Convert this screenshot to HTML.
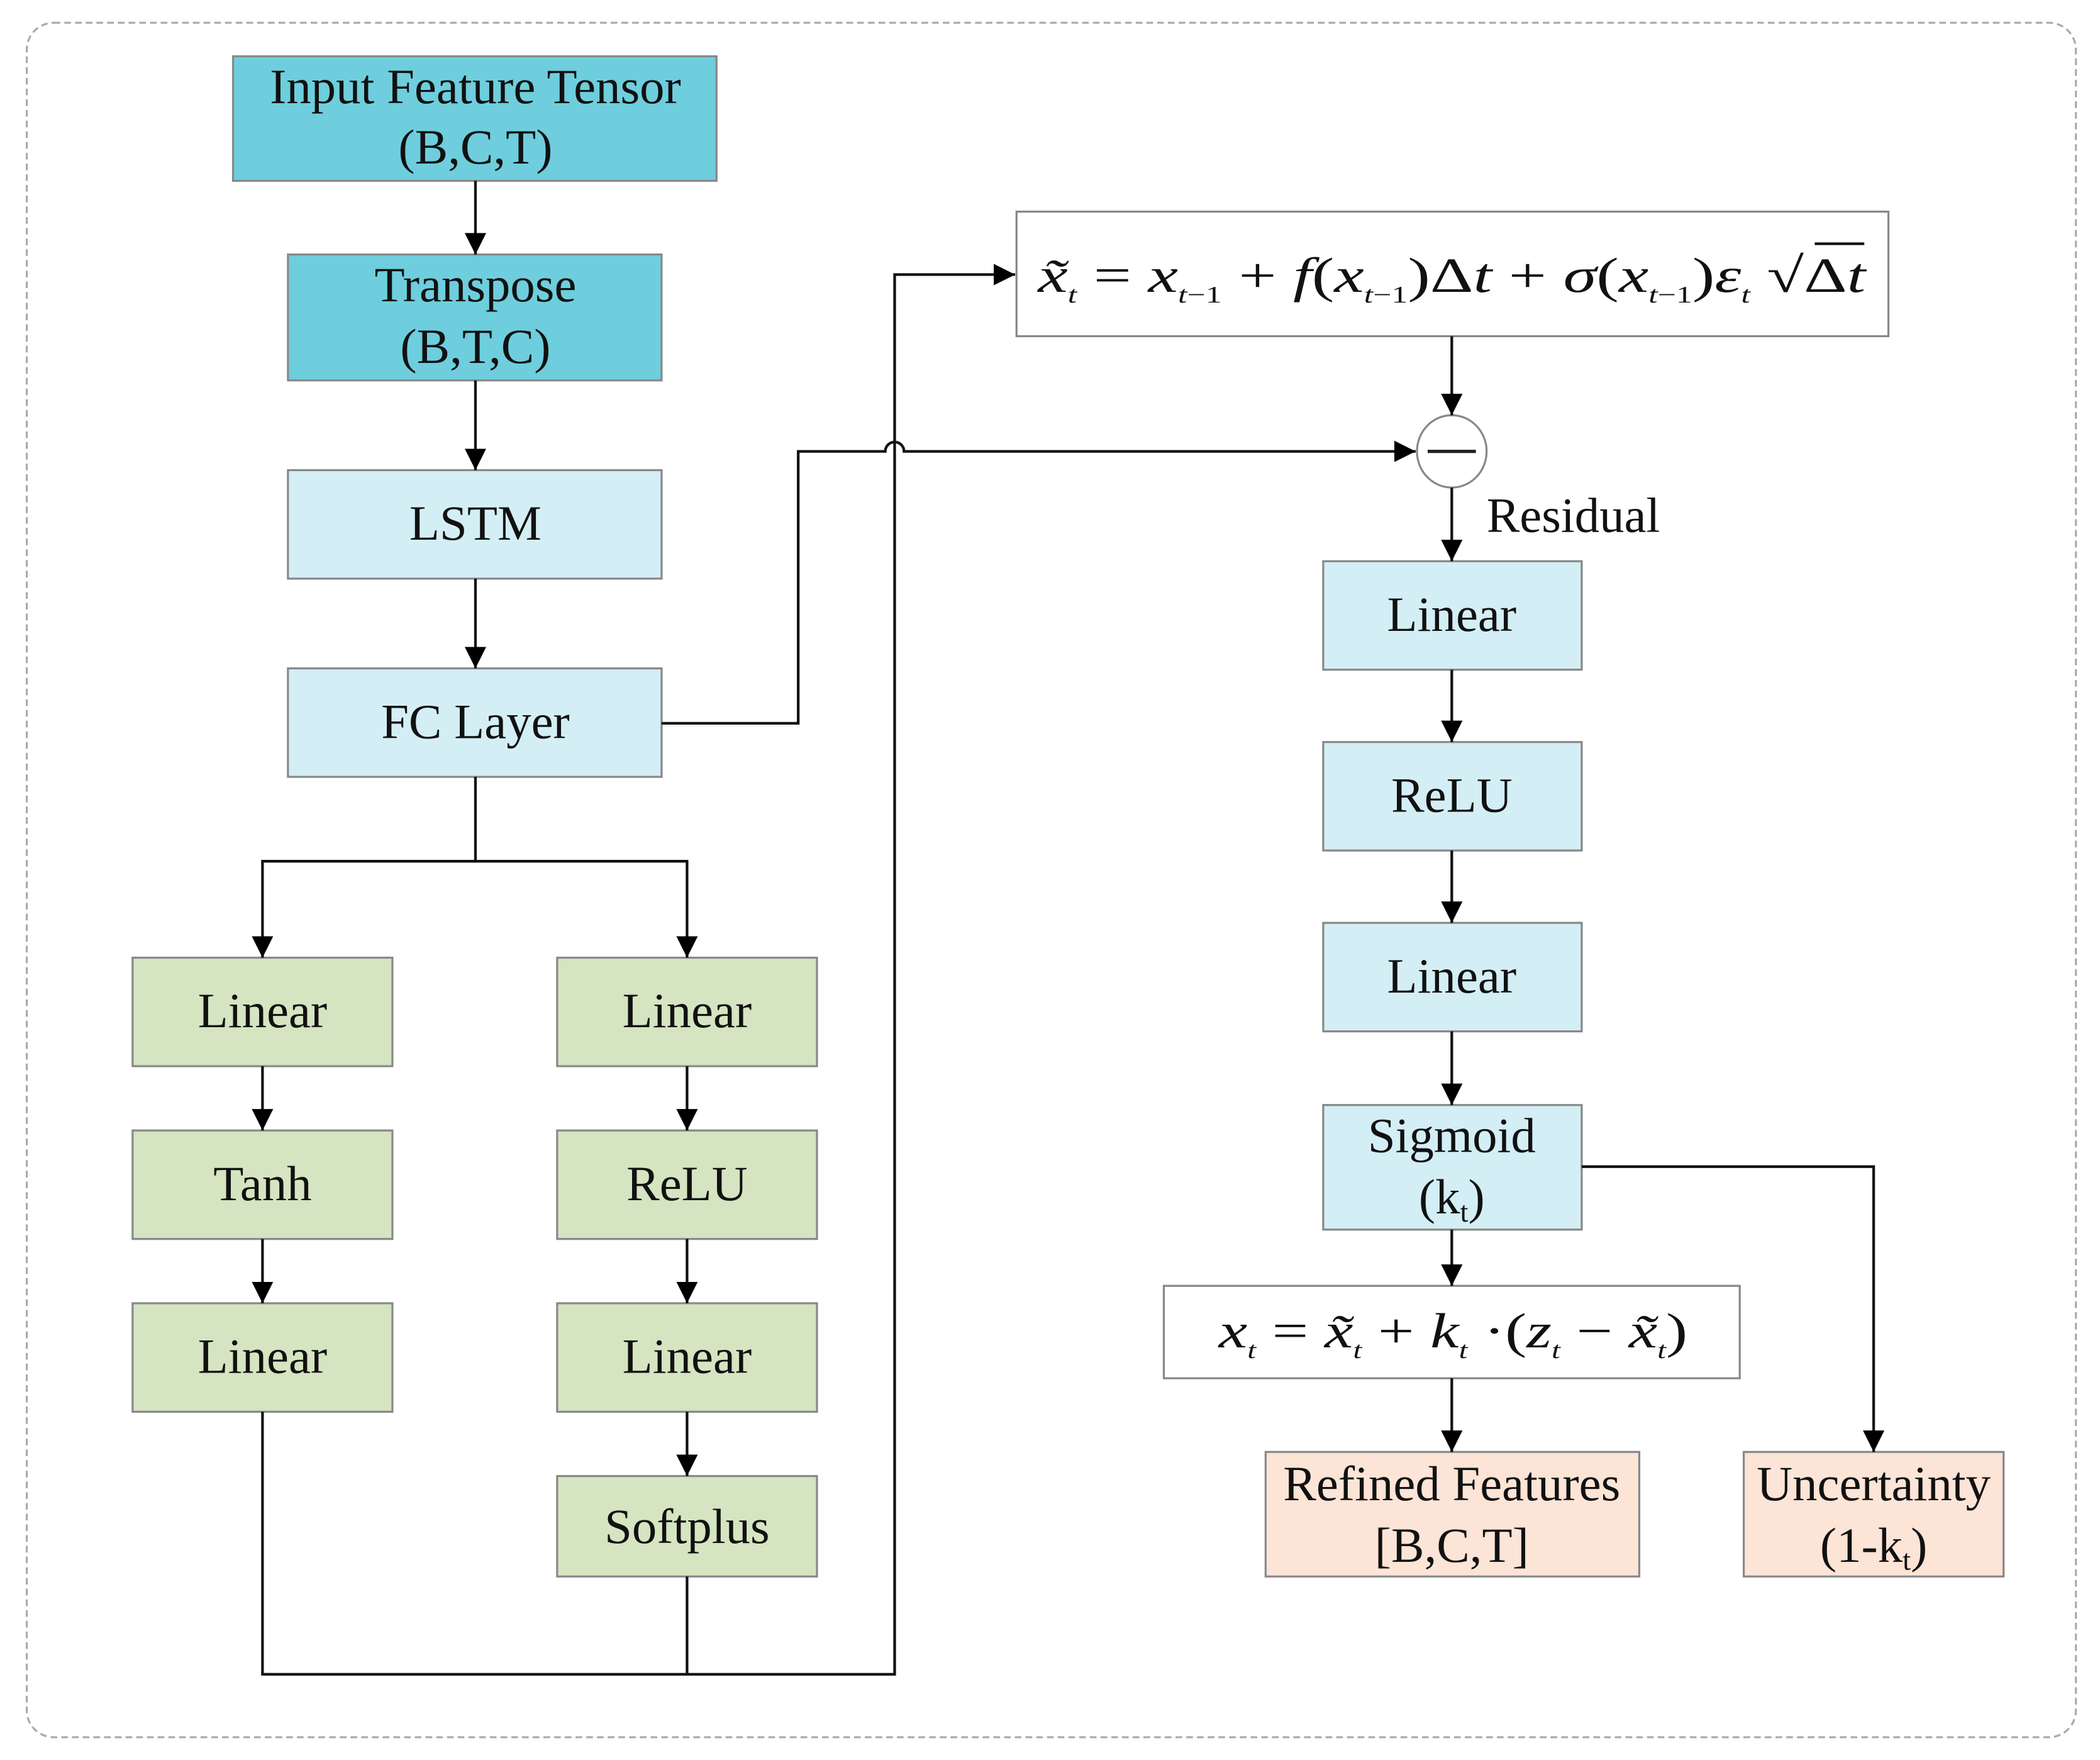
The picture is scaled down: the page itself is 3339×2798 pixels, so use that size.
<!DOCTYPE html>
<html><head><meta charset="utf-8"><style>
html,body{margin:0;padding:0;background:#fff;}
svg{display:block;}
text{font-family:"Liberation Serif",serif;fill:#111;}
</style></head><body>
<svg width="3339" height="2798" viewBox="0 0 1568 1314" preserveAspectRatio="none" xmlns="http://www.w3.org/2000/svg">
<defs>
<marker id="a" viewBox="0 0 10 10" refX="10" refY="5" markerWidth="16" markerHeight="16" markerUnits="userSpaceOnUse" orient="auto"><path d="M0,0 L10,5 L0,10 z" fill="#000"/></marker>
</defs>
<rect x="20" y="17" width="1530" height="1280" rx="20" fill="none" stroke="#aaa" stroke-width="1.5" stroke-dasharray="5,3"/>
<g stroke="#888" stroke-width="1.5">
<rect x="174" y="42" width="361" height="93" fill="#6ecedd"/>
<rect x="215" y="190" width="279" height="94" fill="#6ecedd"/>
<rect x="215" y="351" width="279" height="81" fill="#d4eef5"/>
<rect x="215" y="499" width="279" height="81" fill="#d4eef5"/>
<rect x="99" y="715" width="194" height="81" fill="#d5e4c1"/>
<rect x="99" y="844" width="194" height="81" fill="#d5e4c1"/>
<rect x="99" y="973" width="194" height="81" fill="#d5e4c1"/>
<rect x="416" y="715" width="194" height="81" fill="#d5e4c1"/>
<rect x="416" y="844" width="194" height="81" fill="#d5e4c1"/>
<rect x="416" y="973" width="194" height="81" fill="#d5e4c1"/>
<rect x="416" y="1102" width="194" height="75" fill="#d5e4c1"/>
<rect x="759" y="158" width="651" height="93" fill="#fff"/>
<rect x="988" y="419" width="193" height="81" fill="#d4eef5"/>
<rect x="988" y="554" width="193" height="81" fill="#d4eef5"/>
<rect x="988" y="689" width="193" height="81" fill="#d4eef5"/>
<rect x="988" y="825" width="193" height="93" fill="#d4eef5"/>
<rect x="869" y="960" width="430" height="69" fill="#fff"/>
<rect x="945" y="1084" width="279" height="93" fill="#fce4d6"/>
<rect x="1302" y="1084" width="194" height="93" fill="#fce4d6"/>
<ellipse cx="1084" cy="337" rx="26" ry="27" fill="#fff"/>
</g>
<line x1="1066" y1="337" x2="1102" y2="337" stroke="#222" stroke-width="2.5"/>
<g stroke="#111" stroke-width="2" fill="none">
<line x1="355" y1="135" x2="355" y2="190" marker-end="url(#a)"/>
<line x1="355" y1="284" x2="355" y2="351" marker-end="url(#a)"/>
<line x1="355" y1="432" x2="355" y2="499" marker-end="url(#a)"/>
<polyline points="355,580 355,643 196,643 196,715" marker-end="url(#a)"/>
<polyline points="355,643 513,643 513,715" marker-end="url(#a)"/>
<line x1="196" y1="796" x2="196" y2="844" marker-end="url(#a)"/>
<line x1="196" y1="925" x2="196" y2="973" marker-end="url(#a)"/>
<line x1="513" y1="796" x2="513" y2="844" marker-end="url(#a)"/>
<line x1="513" y1="925" x2="513" y2="973" marker-end="url(#a)"/>
<line x1="513" y1="1054" x2="513" y2="1102" marker-end="url(#a)"/>
<polyline points="196,1054 196,1250 668,1250 668,205 758,205" marker-end="url(#a)"/>
<line x1="513" y1="1177" x2="513" y2="1250"/>
<path d="M494,540 H596 V337 H661 A7,7 0 0 1 675,337 H1057" marker-end="url(#a)"/>
<line x1="1084" y1="251" x2="1084" y2="310" marker-end="url(#a)"/>
<line x1="1084" y1="364" x2="1084" y2="419" marker-end="url(#a)"/>
<line x1="1084" y1="500" x2="1084" y2="554" marker-end="url(#a)"/>
<line x1="1084" y1="635" x2="1084" y2="689" marker-end="url(#a)"/>
<line x1="1084" y1="770" x2="1084" y2="825" marker-end="url(#a)"/>
<line x1="1084" y1="918" x2="1084" y2="960" marker-end="url(#a)"/>
<line x1="1084" y1="1029" x2="1084" y2="1084" marker-end="url(#a)"/>
<polyline points="1181,871 1399,871 1399,1084" marker-end="url(#a)"/>
</g>
<g font-size="37" text-anchor="middle">
<text x="355" y="77">Input Feature Tensor</text>
<text x="355" y="122">(B,C,T)</text>
<text x="355" y="225">Transpose</text>
<text x="355" y="271">(B,T,C)</text>
<text x="355" y="403">LSTM</text>
<text x="355" y="551">FC Layer</text>
<text x="196" y="767">Linear</text>
<text x="196" y="896">Tanh</text>
<text x="196" y="1025">Linear</text>
<text x="513" y="767">Linear</text>
<text x="513" y="896">ReLU</text>
<text x="513" y="1025">Linear</text>
<text x="513" y="1152">Softplus</text>
<text x="1084" y="471">Linear</text>
<text x="1084" y="606">ReLU</text>
<text x="1084" y="741">Linear</text>
<text x="1084" y="860">Sigmoid</text>
<text x="1084" y="906">(k<tspan font-size="22" dy="6">t</tspan><tspan dy="-6">)</tspan></text>
<text x="1084" y="1120">Refined Features</text>
<text x="1084" y="1166">[B,C,T]</text>
<text x="1399" y="1120">Uncertainty</text>
<text x="1399" y="1166">(1-k<tspan font-size="22" dy="6">t</tspan><tspan dy="-6">)</tspan></text>
</g>
<text x="1110" y="397" font-size="37">Residual</text>
<text x="775" y="218" font-size="37" textLength="618" lengthAdjust="spacingAndGlyphs"><tspan font-style="italic">x̃</tspan><tspan font-size="18" font-style="italic" dy="8">t</tspan><tspan dy="-8"> = </tspan><tspan font-style="italic">x</tspan><tspan font-size="18" dy="8"><tspan font-style="italic">t</tspan>−1</tspan><tspan dy="-8"> + </tspan><tspan font-style="italic">f</tspan>(<tspan font-style="italic">x</tspan><tspan font-size="18" dy="8"><tspan font-style="italic">t</tspan>−1</tspan><tspan dy="-8">)Δ</tspan><tspan font-style="italic">t</tspan> + <tspan font-style="italic">σ</tspan>(<tspan font-style="italic">x</tspan><tspan font-size="18" dy="8"><tspan font-style="italic">t</tspan>−1</tspan><tspan dy="-8">)</tspan><tspan font-style="italic">ε</tspan><tspan font-size="18" font-style="italic" dy="8">t</tspan><tspan dy="-8"> √Δ</tspan><tspan font-style="italic">t</tspan></text>
<line x1="1355" y1="182" x2="1392" y2="182" stroke="#111" stroke-width="2"/>
<text x="910" y="1006" font-size="37" textLength="350" lengthAdjust="spacingAndGlyphs"><tspan font-style="italic">x</tspan><tspan font-size="18" font-style="italic" dy="8">t</tspan><tspan dy="-8"> = </tspan><tspan font-style="italic">x̃</tspan><tspan font-size="18" font-style="italic" dy="8">t</tspan><tspan dy="-8"> + </tspan><tspan font-style="italic">k</tspan><tspan font-size="18" font-style="italic" dy="8">t</tspan><tspan dy="-8"> ·(</tspan><tspan font-style="italic">z</tspan><tspan font-size="18" font-style="italic" dy="8">t</tspan><tspan dy="-8"> − </tspan><tspan font-style="italic">x̃</tspan><tspan font-size="18" font-style="italic" dy="8">t</tspan><tspan dy="-8">)</tspan></text>
</svg>
</body></html>
